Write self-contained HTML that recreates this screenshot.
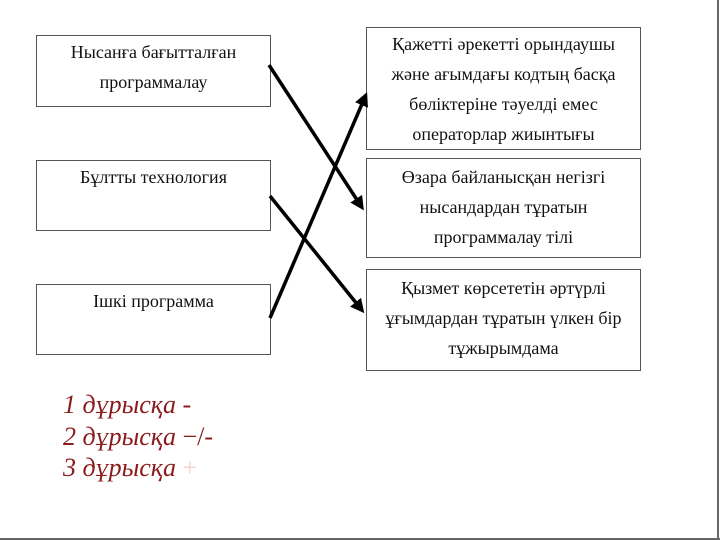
<!DOCTYPE html>
<html><head><meta charset="utf-8"><style>
body{margin:0;width:720px;height:540px;background:#fff;position:relative;overflow:hidden;font-family:"Liberation Serif","DejaVu Serif",serif;}
.b{position:absolute;box-sizing:border-box;border:1.5px solid #555;text-align:center;font-size:18px;color:#111;line-height:30px;}
.leg{position:absolute;left:63px;font-style:italic;font-size:26px;color:#8b1a1a;line-height:31px;}
</style></head><body>
<div class="b" style="left:36px;top:35px;width:235px;height:72px;padding-top:1px">Нысанға бағытталған<br>программалау</div>
<div class="b" style="left:36px;top:160px;width:235px;height:71px;padding-top:1px">Бұлтты технология</div>
<div class="b" style="left:36px;top:284px;width:235px;height:71px;padding-top:1px">Ішкі программа</div>
<div class="b" style="left:366px;top:27px;width:275px;height:123px;padding-top:1px">Қажетті әрекетті орындаушы<br>және ағымдағы кодтың басқа<br>бөліктеріне тәуелді емес<br>операторлар жиынтығы</div>
<div class="b" style="left:366px;top:158px;width:275px;height:100px;padding-top:3px">Өзара байланысқан негізгі<br>нысандардан тұратын<br>программалау тілі</div>
<div class="b" style="left:366px;top:269px;width:275px;height:102px;padding-top:3px">Қызмет көрсететін әртүрлі<br>ұғымдардан тұратын үлкен бір<br>тұжырымдама</div>
<svg width="720" height="540" style="position:absolute;left:0;top:0">
<defs><marker id="a" markerWidth="4" markerHeight="4" refX="2.5" refY="2" orient="auto" markerUnits="strokeWidth"><path d="M0,0 L4,2 L0,4 z" fill="#000"/></marker></defs>
<g stroke="#000" stroke-width="3.5" fill="none">
<line x1="269" y1="65" x2="361" y2="206" marker-end="url(#a)"/>
<line x1="270" y1="196" x2="361" y2="309" marker-end="url(#a)"/>
<line x1="270" y1="318" x2="365" y2="97" marker-end="url(#a)"/>
</g>
<line x1="718" y1="0" x2="718" y2="540" stroke="#666" stroke-width="2"/>
<line x1="0" y1="539" x2="720" y2="539" stroke="#666" stroke-width="2"/>
</svg>
<div class="leg" style="top:389px">1 дұрысқа -</div>
<div class="leg" style="top:421px">2 дұрысқа <span style="font-style:normal">−/-</span></div>
<div class="leg" style="top:452px">3 дұрысқа <span style="color:#f4d0d0;font-style:normal">+</span></div>
</body></html>
